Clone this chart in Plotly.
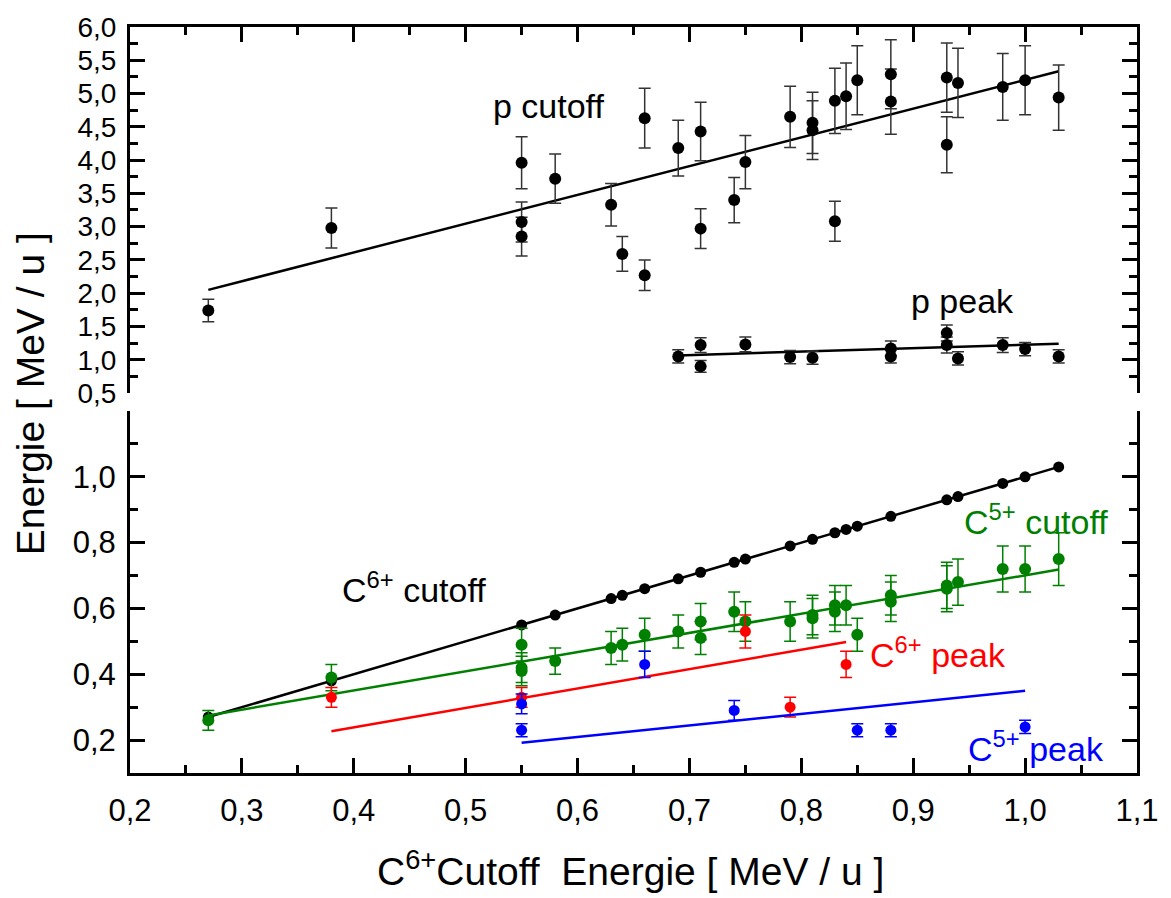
import plotly.graph_objects as go

# ---------------- data ----------------
# top panel: proton cutoff
p_cut_x = [0.27, 0.38, 0.55, 0.55, 0.55, 0.58, 0.63, 0.64, 0.66, 0.66, 0.69, 0.71, 0.71, 0.74, 0.75,
           0.79, 0.81, 0.81, 0.83, 0.83, 0.84, 0.85, 0.88, 0.88, 0.93, 0.93, 0.94, 0.98, 1.00, 1.03]
p_cut_y = [1.74, 2.98, 3.96, 3.07, 2.85, 3.72, 3.33, 2.59, 4.63, 2.27, 4.18, 4.43, 2.97, 3.40, 3.97,
           4.65, 4.56, 4.45, 4.89, 3.08, 4.96, 5.20, 5.29, 4.88, 5.24, 4.23, 5.16, 5.10, 5.20, 4.94]
p_cut_err = [0.17, 0.30, 0.39, 0.30, 0.29, 0.37, 0.32, 0.26, 0.45, 0.23, 0.42, 0.44, 0.30, 0.34, 0.40,
             0.46, 0.46, 0.44, 0.49, 0.30, 0.50, 0.52, 0.52, 0.49, 0.52, 0.42, 0.52, 0.50, 0.52, 0.49]
p_cut_fit_x = [0.27, 1.03]
p_cut_fit_y = [2.05, 5.335]

# top panel: proton peak
p_peak_x = [0.69, 0.71, 0.71, 0.75, 0.79, 0.81, 0.88, 0.88, 0.93, 0.93, 0.94, 0.98, 1.00, 1.03]
p_peak_y = [1.05, 1.22, 0.90, 1.23, 1.04, 1.03, 1.17, 1.05, 1.40, 1.22, 1.02, 1.22, 1.16, 1.05]
p_peak_err = [0.10, 0.11, 0.09, 0.11, 0.10, 0.10, 0.11, 0.10, 0.12, 0.12, 0.10, 0.11, 0.10, 0.10]
p_peak_fit_x = [0.69, 1.03]
p_peak_fit_y = [1.065, 1.24]

# bottom panel: C6+ cutoff
c6_cut_x = [0.27, 0.38, 0.55, 0.58, 0.63, 0.64, 0.66, 0.69, 0.71, 0.74, 0.75, 0.79, 0.81, 0.83, 0.84,
            0.85, 0.88, 0.93, 0.94, 0.98, 1.00, 1.03]
c6_cut_y = [0.27, 0.38, 0.55, 0.58, 0.63, 0.64, 0.66, 0.69, 0.71, 0.74, 0.75, 0.79, 0.81, 0.83, 0.84,
            0.85, 0.88, 0.93, 0.94, 0.98, 1.00, 1.03]

# bottom panel: C5+ cutoff
c5_cut_x = [0.27, 0.38, 0.55, 0.55, 0.55, 0.58, 0.63, 0.64, 0.66, 0.69, 0.71, 0.71, 0.74, 0.75, 0.79,
            0.81, 0.81, 0.83, 0.83, 0.84, 0.85, 0.88, 0.88, 0.93, 0.93, 0.94, 0.98, 1.00, 1.03]
c5_cut_y = [0.26, 0.39, 0.49, 0.42, 0.41, 0.44, 0.48, 0.49, 0.52, 0.53, 0.56, 0.51, 0.59, 0.56, 0.56,
            0.58, 0.57, 0.61, 0.59, 0.61, 0.52, 0.64, 0.62, 0.67, 0.66, 0.68, 0.72, 0.72, 0.75]
c5_cut_err = [0.03, 0.04, 0.05, 0.045, 0.045, 0.04, 0.05, 0.05, 0.05, 0.05, 0.055, 0.05, 0.06, 0.06, 0.06,
              0.06, 0.06, 0.06, 0.06, 0.06, 0.05, 0.06, 0.06, 0.07, 0.07, 0.07, 0.07, 0.07, 0.08]
c5_cut_fit_x = [0.27, 1.03]
c5_cut_fit_y = [0.275, 0.718]

# bottom panel: C6+ peak
c6_peak_x = [0.38, 0.55, 0.75, 0.79, 0.84]
c6_peak_y = [0.33, 0.33, 0.53, 0.30, 0.43]
c6_peak_err = [0.03, 0.03, 0.05, 0.03, 0.04]
c6_peak_fit_x = [0.38, 0.84]
c6_peak_fit_y = [0.227, 0.498]

# bottom panel: C5+ peak
c5_peak_x = [0.55, 0.55, 0.66, 0.74, 0.85, 0.88, 1.00]
c5_peak_y = [0.31, 0.23, 0.43, 0.29, 0.23, 0.23, 0.24]
c5_peak_err = [0.03, 0.02, 0.04, 0.03, 0.02, 0.02, 0.02]
c5_peak_fit_x = [0.55, 1.00]
c5_peak_fit_y = [0.192, 0.35]

x_ticks = [0.2, 0.3, 0.4, 0.5, 0.6, 0.7, 0.8, 0.9, 1.0, 1.1]
top_y_ticks = [0.5, 1.0, 1.5, 2.0, 2.5, 3.0, 3.5, 4.0, 4.5, 5.0, 5.5, 6.0]
bot_y_ticks = [0.2, 0.4, 0.6, 0.8, 1.0]
bot_y_minor = [0.3, 0.5, 0.7, 0.9, 1.1]

BLACK = "#000000"
GREEN = "#008000"
RED = "#ff0000"
BLUE = "#0000ff"
FONT = "Liberation Sans, Arial, sans-serif"

fig = go.Figure()


def fit(x, y, color, xa, ya):
    fig.add_trace(go.Scatter(x=x, y=y, mode="lines", line=dict(color=color, width=2.5),
                             xaxis=xa, yaxis=ya, showlegend=False, hoverinfo="skip"))


def pts(x, y, err, color, ecolor, size, xa, ya):
    fig.add_trace(go.Scatter(
        x=x, y=y, mode="markers",
        marker=dict(color=color, size=size, line=dict(width=0)),
        error_y=dict(type="data", array=err, visible=True, color=ecolor, thickness=1.5, width=6),
        xaxis=xa, yaxis=ya, showlegend=False))


# top panel
fit(p_cut_fit_x, p_cut_fit_y, BLACK, "x2", "y2")
fit(p_peak_fit_x, p_peak_fit_y, BLACK, "x2", "y2")
pts(p_cut_x, p_cut_y, p_cut_err, BLACK, "#333333", 12, "x2", "y2")
pts(p_peak_x, p_peak_y, p_peak_err, BLACK, "#333333", 12, "x2", "y2")

# bottom panel
fig.add_trace(go.Scatter(x=c6_cut_x, y=c6_cut_y, mode="lines+markers",
                         line=dict(color=BLACK, width=2.5), marker=dict(color=BLACK, size=11),
                         showlegend=False))
fit(c5_cut_fit_x, c5_cut_fit_y, GREEN, "x", "y")
pts(c5_cut_x, c5_cut_y, c5_cut_err, GREEN, GREEN, 12, "x", "y")
fit(c6_peak_fit_x, c6_peak_fit_y, RED, "x", "y")
pts(c6_peak_x, c6_peak_y, c6_peak_err, RED, RED, 11, "x", "y")
fit(c5_peak_fit_x, c5_peak_fit_y, BLUE, "x", "y")
pts(c5_peak_x, c5_peak_y, c5_peak_err, BLUE, BLUE, 11, "x", "y")

axis_common = dict(showline=True, linecolor=BLACK, linewidth=3, ticks="inside",
                   tickcolor=BLACK, tickwidth=2.5, showgrid=False, zeroline=False)

fig.update_layout(
    width=1171, height=898, autosize=False,
    margin=dict(l=130, r=32, t=25, b=125),
    paper_bgcolor="white", plot_bgcolor="white",
    separators=",.",
    font=dict(family=FONT, color=BLACK, size=28),
    xaxis=dict(**axis_common, domain=[0, 1], range=[0.2, 1.1], anchor="y",
               tickmode="array", tickvals=x_ticks, tickformat=".1f", ticklen=15,
               tickfont=dict(family=FONT, size=31, color=BLACK), ticklabelstandoff=8,
               minor=dict(ticks="inside", dtick=0.05, tick0=0.2, ticklen=8, tickwidth=2.5, tickcolor=BLACK)),
    yaxis=dict(**axis_common, domain=[0, 0.4853], range=[0.1, 1.2], anchor="x", mirror="ticks",
               tickmode="array", tickvals=bot_y_ticks, tickformat=".1f", ticklen=15,
               tickfont=dict(family=FONT, size=31, color=BLACK), ticklabelstandoff=5,
               minor=dict(ticks="inside", tickmode="array", tickvals=bot_y_minor, ticklen=8,
                          tickwidth=2.5, tickcolor=BLACK)),
    xaxis2=dict(**axis_common, domain=[0, 1], range=[0.2, 1.1], anchor="y2", side="top",
                tickmode="array", tickvals=x_ticks, ticklen=15, showticklabels=False,
                minor=dict(ticks="inside", dtick=0.05, tick0=0.2, ticklen=8, tickwidth=2.5, tickcolor=BLACK)),
    yaxis2=dict(**axis_common, domain=[0.5094, 1], range=[0.5, 6.0], anchor="x2", mirror="ticks",
                tickmode="array", tickvals=top_y_ticks, tickformat=".1f", ticklen=15,
                tickfont=dict(family=FONT, size=28, color=BLACK), ticklabelstandoff=5,
                minor=dict(ticks="inside", dtick=0.25, tick0=0.5, ticklen=8, tickwidth=2.5, tickcolor=BLACK)),
)

ann_size = 34
annotations = [
    dict(x=0.574, y=4.82, xref="x2", yref="y2", text="p cutoff", font=dict(size=ann_size, color=BLACK)),
    dict(x=0.944, y=1.88, xref="x2", yref="y2", text="p peak", font=dict(size=ann_size, color=BLACK)),
    dict(x=0.454, y=0.665, xref="x", yref="y", text="C<sup>6+</sup> cutoff", font=dict(size=ann_size, color=BLACK)),
    dict(x=1.01, y=0.87, xref="x", yref="y", text="C<sup>5+</sup> cutoff", font=dict(size=ann_size, color=GREEN)),
    dict(x=0.922, y=0.465, xref="x", yref="y", text="C<sup>6+</sup> peak", font=dict(size=ann_size, color=RED)),
    dict(x=1.01, y=0.18, xref="x", yref="y", text="C<sup>5+</sup> peak", font=dict(size=ann_size, color=BLUE)),
    dict(x=-0.0991, y=0.508, xref="paper", yref="paper", text="Energie [ MeV / u ]", textangle=-90,
         font=dict(size=39, color=BLACK)),
    dict(x=0.4975, y=-0.128, xref="paper", yref="paper", text="C<sup>6+</sup>Cutoff  Energie [ MeV / u ]",
         font=dict(size=39, color=BLACK)),
]
for a in annotations:
    a.update(showarrow=False, xanchor="center", yanchor="middle")
fig.update_layout(annotations=annotations)

fig.write_html("out.html")
